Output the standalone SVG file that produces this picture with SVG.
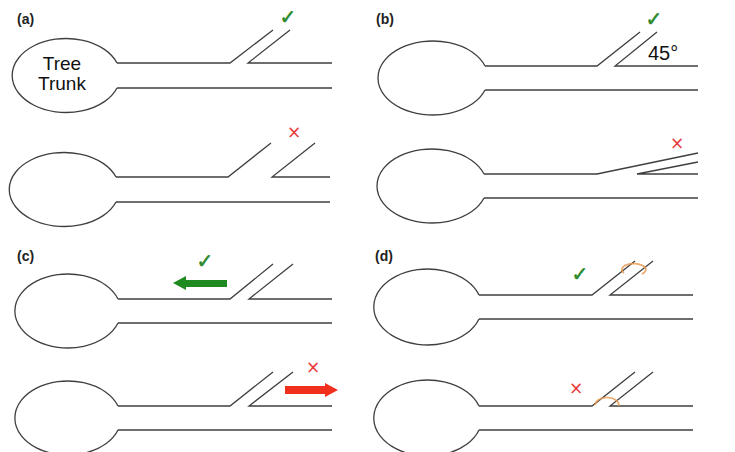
<svg xmlns="http://www.w3.org/2000/svg" width="735" height="452" viewBox="0 0 735 452">
<style>
.ln{fill:none;stroke:#3f3f3f;stroke-width:1.3;stroke-linejoin:miter}
.lab{font-family:"Liberation Sans",Arial,sans-serif;font-weight:bold;font-size:14px;fill:#222}
.big{font-family:"Liberation Sans",Arial,sans-serif;font-size:19px;fill:#111}
.ok{font-family:"DejaVu Sans",sans-serif;font-weight:bold;font-size:20px;fill:#2e8b2e;stroke:#2e8b2e;stroke-width:0.6}
.no{font-family:"DejaVu Sans",sans-serif;font-size:17px;fill:#e8383a}
.arc{fill:none;stroke:#e89a50;stroke-width:1.6;opacity:0.85}
</style>
<rect width="735" height="452" fill="#fff"/>

<g id="panel-a-top">
<text class="lab" x="17" y="24">(a)</text>
<path class="ln" d="M117 63 A54 37 0 1 0 117 88"/>
<path class="ln" d="M117 63 L230 63 L273 30 M290 30 L248 63 L332 63 M117 88 L332 88"/>
<text class="big" x="62" y="70" text-anchor="middle">Tree</text>
<text class="big" x="62" y="90" text-anchor="middle">Trunk</text>
<text class="ok" x="288" y="24" text-anchor="middle">✓</text>
</g>

<g id="panel-a-bottom">
<path class="ln" d="M116 177 A55 37 0 1 0 116 202"/>
<path class="ln" d="M116 177 L228 177 L271 143 M315 143 L272 177 L330 177 M116 202 L330 202"/>
<text class="no" x="294" y="138" text-anchor="middle">×</text>
</g>

<g id="panel-b-top">
<text class="lab" x="376" y="24">(b)</text>
<path class="ln" d="M485 66 A55 37 0 1 0 485 90"/>
<path class="ln" d="M485 66 L597 66 L640 32 M657 32 L615 66 L698 66 M485 90 L698 90"/>
<text class="ok" x="654" y="26" text-anchor="middle">✓</text>
<text class="big" x="648" y="60" style="font-size:20px">45°</text>
</g>

<g id="panel-b-bottom">
<path class="ln" d="M484 174 A55 37 0 1 0 484 198"/>
<path class="ln" d="M484 174 L597 174 L698 153 M698 162 L637 174 L698 174 M484 198 L698 198"/>
<text class="no" x="677" y="149" text-anchor="middle">×</text>
</g>

<g id="panel-c-top">
<text class="lab" x="17" y="261">(c)</text>
<path class="ln" d="M118 299 A53 37 0 1 0 118 323"/>
<path class="ln" d="M118 299 L230 299 L273 264 M293 264 L249 299 L332 299 M118 323 L332 323"/>
<text class="ok" x="205" y="268" text-anchor="middle">✓</text>
<path d="M173 283 L186 276 L186 280 L227 280 L227 287 L186 287 L186 290 Z" fill="#1f8a1f"/>
</g>

<g id="panel-c-bottom">
<path class="ln" d="M118 406 A53 37 0 1 0 118 430"/>
<path class="ln" d="M118 406 L230 406 L273 372 M293 372 L249 406 L332 406 M118 430 L332 430"/>
<text class="no" x="313" y="373" text-anchor="middle">×</text>
<path d="M338 390 L325 383 L325 386 L285 386 L285 394 L325 394 L325 397 Z" fill="#f0301c"/>
</g>

<g id="panel-d-top">
<text class="lab" x="375" y="261">(d)</text>
<path class="ln" d="M479 295 A54 38 0 1 0 479 319"/>
<path class="ln" d="M479 295 L592 295 L635 261 M653 261 L610 295 L693 295 M479 319 L693 319"/>
<text class="ok" x="580" y="281" text-anchor="middle">✓</text>
<path class="arc" d="M624 273 A12 6 0 1 1 642 274"/>
</g>

<g id="panel-d-bottom">
<path class="ln" d="M479 406 A54 38 0 1 0 479 430"/>
<path class="ln" d="M479 406 L592 406 L635 372 M653 372 L610 406 L693 406 M479 430 L693 430"/>
<text class="no" x="576" y="394" text-anchor="middle">×</text>
<path class="arc" d="M595 405 A12 8 0 0 1 619 406"/>
</g>
</svg>
